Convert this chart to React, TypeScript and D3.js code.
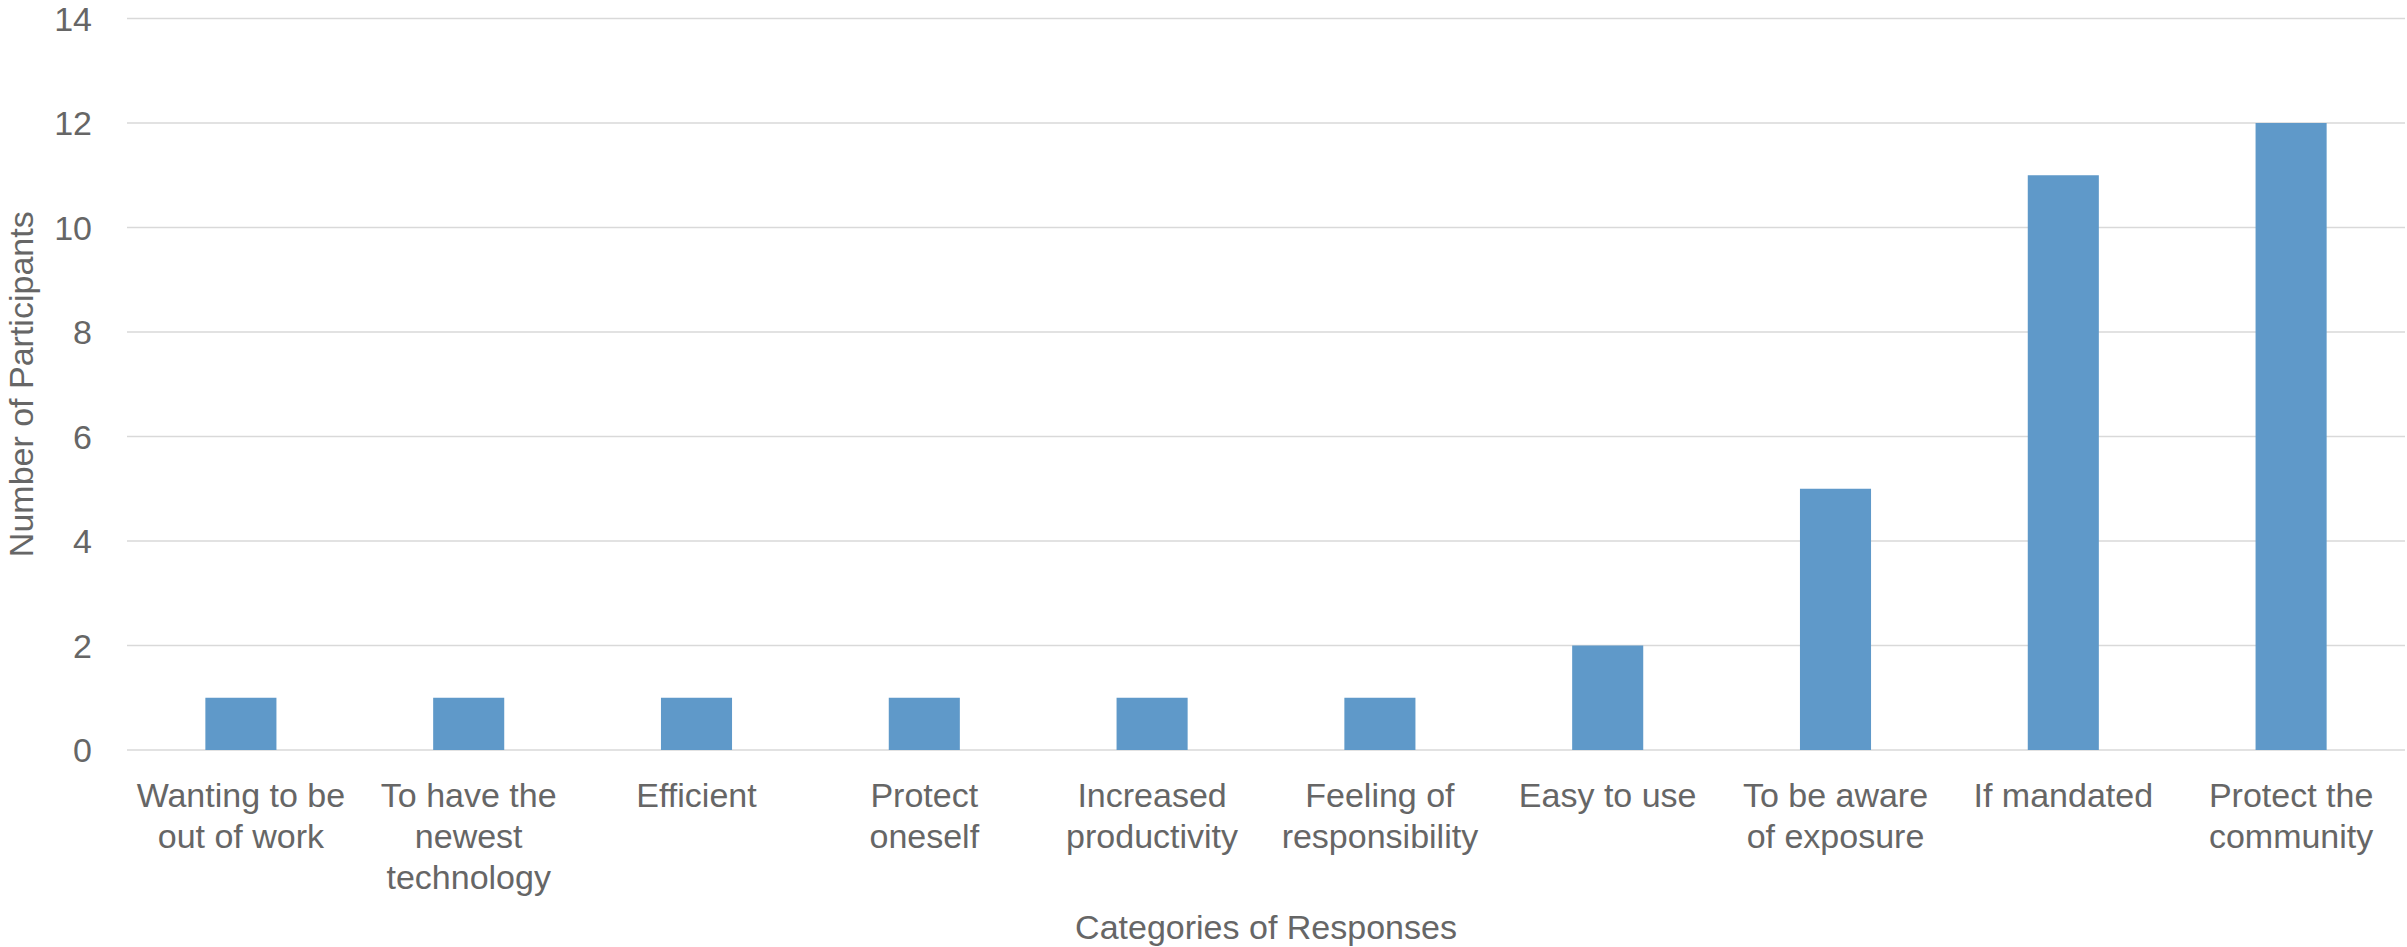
import React from "react";
import * as d3 from "d3";

// Survey responses: reasons participants would adopt the technology
const categories: string[][] = [
  ["Wanting to be", "out of work"],
  ["To have the", "newest", "technology"],
  ["Efficient"],
  ["Protect", "oneself"],
  ["Increased", "productivity"],
  ["Feeling of", "responsibility"],
  ["Easy to use"],
  ["To be aware", "of exposure"],
  ["If mandated"],
  ["Protect the", "community"],
];
const participants: number[] = [1, 1, 1, 1, 1, 1, 2, 5, 11, 12];
const yTicks: number[] = [0, 2, 4, 6, 8, 10, 12, 14];

const yTitle = "Number of Participants";
const xTitle = "Categories of Responses";

const WIDTH = 2407;
const HEIGHT = 947;
const FONT = "'Liberation Sans', Arial, sans-serif";
const TEXT = "#666666";
const GRID = "#d9d9d9";
const BAR = "#5f99c9";

export default function App() {
  const keys = categories.map((c) => c.join(" "));
  const x = d3
    .scaleBand<string>()
    .domain(keys)
    .range([127, 2405])
    .paddingInner(0.688)
    .paddingOuter(0.344);
  const y = d3.scaleLinear().domain([0, 14]).range([750, 18.5]);

  return (
    <svg
      width={WIDTH}
      height={HEIGHT}
      style={{ position: "absolute", left: 0, top: 0, background: "#fff" }}
      fontFamily={FONT}
    >
      {/* horizontal gridlines and value ticks */}
      {yTicks.map((t) => (
        <g key={t}>
          <line
            x1={127}
            x2={2405}
            y1={y(t)}
            y2={y(t)}
            stroke={GRID}
            strokeWidth={1.6}
          />
          <text
            x={92}
            y={y(t)}
            textAnchor="end"
            dominantBaseline="central"
            fontSize={34}
            fill={TEXT}
          >
            {t}
          </text>
        </g>
      ))}

      {/* bars */}
      {participants.map((v, i) => (
        <rect
          key={keys[i]}
          x={x(keys[i])}
          y={y(v)}
          width={x.bandwidth()}
          height={y(0) - y(v)}
          fill={BAR}
        />
      ))}

      {/* category labels */}
      {categories.map((lines, i) => (
        <text
          key={keys[i]}
          x={(x(keys[i]) as number) + x.bandwidth() / 2}
          y={807}
          textAnchor="middle"
          fontSize={34}
          fill={TEXT}
        >
          {lines.map((ln, j) => (
            <tspan key={j} x={(x(keys[i]) as number) + x.bandwidth() / 2} dy={j === 0 ? 0 : 41}>
              {ln}
            </tspan>
          ))}
        </text>
      ))}

      {/* axis titles */}
      <text
        transform={`translate(33,${(y(0) + y(14)) / 2}) rotate(-90)`}
        textAnchor="middle"
        fontSize={34}
        fill={TEXT}
      >
        {yTitle}
      </text>
      <text x={1266} y={939} textAnchor="middle" fontSize={34} fill={TEXT}>
        {xTitle}
      </text>
    </svg>
  );
}
